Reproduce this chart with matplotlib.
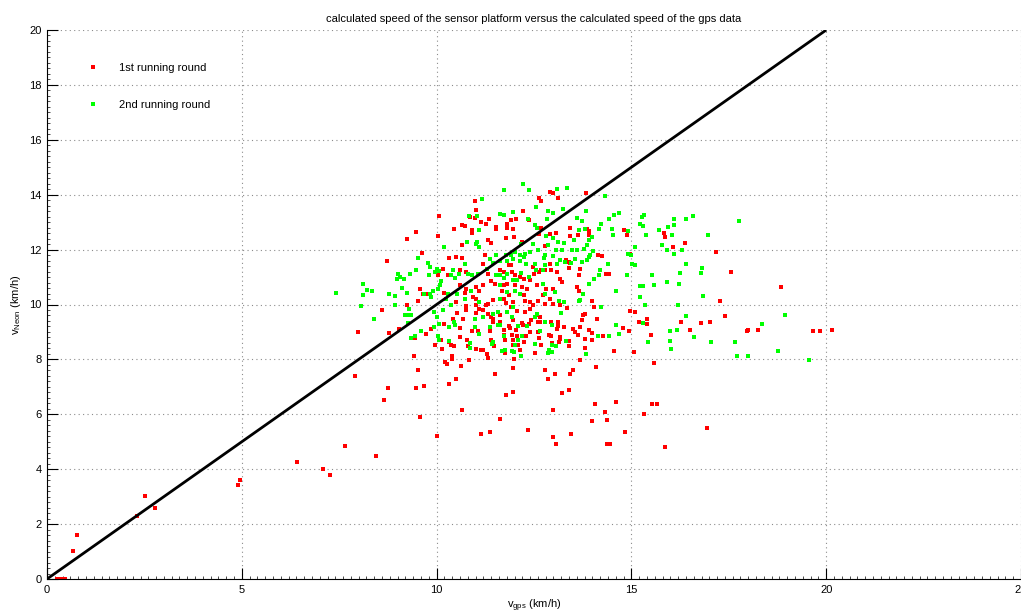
import numpy as np
import matplotlib
matplotlib.use('Agg')
import matplotlib.pyplot as plt
from matplotlib.ticker import MultipleLocator

plt.rcParams['font.family'] = ['Liberation Sans', 'DejaVu Sans']
plt.rcParams['mathtext.fontset'] = 'custom'
plt.rcParams['mathtext.rm'] = 'Liberation Sans'

# (v_gps, v_Neon) pairs in km/h
round1_points = [
    (0.25, 0), (0.35, 0), (0.45, 0), (0.66, 1.02), (0.77, 1.61), (2.31, 2.3), (2.52, 3.01),
    (2.78, 2.57), (4.89, 3.41), (4.95, 3.59), (6.41, 4.25), (7.08, 4.02), (7.26, 3.78), (7.66, 4.86),
    # 7-11.6 km/h, upper part
    (10.98, 13.76), (11.0, 13.43), (10.06, 13.21), (10.86, 13.19), (10.98, 13.15), (11.13, 13.0),
    (11.34, 13.13), (10.66, 12.9), (10.74, 12.85), (10.44, 12.76), (10.9, 12.7), (10.9, 12.6),
    (11.28, 12.94), (11.53, 12.82), (11.53, 12.76), (10.03, 12.5), (9.46, 12.64), (9.25, 12.4),
    (11.32, 12.34), (11.4, 12.24), (10.66, 12.15), (9.63, 11.89), (8.72, 11.57), (10.33, 11.69),
    (10.51, 11.72), (10.66, 11.7), (11.23, 11.8), (11.19, 11.49), (10.0, 11.2), (10.04, 11.06),
    (10.16, 11.3), (10.29, 11.08), (10.59, 11.24), (10.76, 11.2), (11.32, 11.12), (11.4, 10.84),
    (11.49, 10.76), (11.19, 10.7), (11.02, 10.64), (11.1, 10.5), (10.76, 10.58), (10.59, 10.7),
    (9.57, 10.58), (9.66, 10.4), (9.78, 10.4), (10.18, 10.43), (10.72, 10.41), (10.94, 10.27),
    (11.02, 10.19), (11.45, 10.15), (11.32, 10.03), (9.51, 10.11), (9.25, 10.0), (8.6, 9.81),
    (10.76, 9.93), (10.76, 9.79), (11.02, 9.97), (11.28, 9.97), (11.1, 9.85), (10.51, 10.09),
    (11.19, 9.79), (11.32, 9.64), (11.4, 9.54), (11.02, 9.7), (10.68, 9.46), (10.52, 9.69),
    (10.42, 9.48), (11.45, 9.46), (11.62, 10.7),
    # 11.6-16.3 km/h, upper part
    (12.92, 14.1), (12.99, 14.07), (13.11, 13.88), (13.84, 14.05), (12.68, 13.76), (12.62, 13.89),
    (12.22, 13.39), (12.04, 13.13), (11.9, 13.09), (11.81, 12.92), (11.8, 12.79), (12.38, 13.07),
    (11.97, 12.76), (12.68, 12.79), (13.42, 12.79), (13.63, 12.52), (13.85, 12.76), (13.92, 12.52),
    (13.9, 12.67), (14.81, 12.7), (14.89, 12.54), (15.83, 12.62), (15.85, 12.46), (16.06, 12.09),
    (12.92, 12.58), (13.06, 12.62), (12.63, 12.58), (11.77, 12.43), (11.99, 12.46), (12.2, 12.26),
    (13.42, 12.49), (12.78, 12.13), (13.33, 11.63), (13.39, 11.55), (13.39, 11.34), (13.69, 11.3),
    (13.66, 11.06), (14.15, 11.79), (14.25, 11.76), (14.36, 11.1), (14.96, 11.83), (11.87, 11.45),
    (11.9, 11.45), (11.63, 11.27), (11.72, 11.18), (11.93, 11.18), (12.0, 11.06), (12.15, 11.0),
    (12.24, 10.94), (12.4, 10.88), (12.47, 11.36), (12.5, 11.12), (12.62, 11.18), (12.68, 11.24),
    (12.79, 11.27), (12.92, 11.49), (12.94, 11.27), (13.09, 11.18), (13.17, 10.94), (13.21, 10.82),
    (12.58, 10.7), (12.33, 10.58), (12.19, 10.64), (12.01, 10.7), (11.81, 10.76), (11.72, 10.7),
    (11.69, 10.51), (11.87, 10.33), (11.97, 10.09), (12.24, 10.33), (12.27, 10.12), (12.4, 10.09),
    (12.48, 9.97), (12.6, 10.12), (12.73, 10.33), (12.81, 10.58), (12.99, 10.58), (13.03, 10.46),
    (12.91, 10.21), (12.78, 10.03), (12.99, 10.03), (13.18, 9.97), (13.34, 9.87), (13.6, 10.64),
    (13.66, 10.51), (14.0, 10.12), (14.04, 9.91), (13.82, 9.66), (13.75, 9.63), (11.72, 10.21),
    (11.79, 10.06), (11.9, 9.9), (12.07, 9.78), (12.28, 9.72), (12.4, 9.85), (12.58, 9.6),
    (12.65, 9.54), (11.63, 9.6), (14.97, 9.78), (15.09, 9.74), (15.4, 9.46), (14.12, 9.46),
    (14.42, 11.1), (13.42, 11.52),
    # above 16.3 km/h
    (16.37, 12.25), (17.18, 11.9), (17.56, 11.2), (18.84, 10.65), (17.28, 10.13), (17.39, 9.59),
    # 7-11.6 km/h, lower part
    (7.98, 9.0), (8.79, 8.96), (9.03, 9.12), (9.44, 8.78), (9.44, 8.86), (9.73, 8.92),
    (9.86, 9.12), (9.95, 8.51), (10.12, 8.72), (10.18, 9.3), (10.46, 9.26), (10.33, 8.63),
    (10.38, 8.53), (10.44, 8.5), (10.59, 8.81), (10.61, 9.14), (10.15, 8.39), (10.79, 8.69),
    (10.81, 8.47), (10.91, 9.02), (11.06, 9.05), (11.0, 8.39), (11.13, 8.35), (11.19, 8.33),
    (11.29, 8.19), (11.31, 8.06), (11.38, 9.02), (11.4, 8.69), (11.47, 8.47), (11.46, 9.38),
    (9.42, 8.11), (10.4, 8.13), (10.4, 8.02), (10.83, 7.96), (10.22, 7.9), (10.27, 7.83),
    (10.63, 7.77), (9.52, 7.6), (7.91, 7.4), (11.49, 7.48), (10.5, 7.3), (10.33, 7.1),
    (8.74, 6.97), (9.47, 6.97), (9.67, 7.03), (8.66, 6.53), (10.65, 6.14), (9.58, 5.91),
    (10.02, 5.22), (11.15, 5.28), (11.38, 5.36), (8.45, 4.47),
    # 11.6-16.3 km/h, lower part
    (11.64, 9.38), (11.72, 9.08), (11.74, 8.9), (11.87, 9.23), (11.88, 9.14), (11.96, 9.44),
    (11.94, 8.9), (11.96, 8.72), (12.04, 9.08), (12.06, 8.84), (12.1, 8.53), (12.15, 8.35),
    (11.97, 8.53), (11.76, 8.69), (11.76, 8.23), (11.99, 8.02), (12.2, 9.32), (12.23, 9.24),
    (12.29, 8.84), (12.25, 8.62), (12.38, 9.3), (12.42, 9.44), (12.4, 9.0), (12.53, 8.23),
    (12.6, 9.38), (12.66, 9.38), (12.6, 9.0), (12.64, 8.78), (12.67, 8.51), (12.88, 8.9),
    (12.93, 8.84), (12.97, 8.6), (12.93, 9.35), (13.12, 9.38), (13.12, 9.23), (13.1, 9.1),
    (13.17, 8.81), (13.18, 8.74), (13.14, 8.62), (13.27, 9.18), (13.4, 8.66), (13.4, 8.5),
    (13.5, 9.1), (13.56, 8.98), (13.62, 8.9), (13.69, 9.18), (13.73, 9.42), (13.81, 8.41),
    (13.8, 8.74), (13.91, 9.08), (14.0, 8.96), (13.98, 8.69), (13.69, 7.99), (14.09, 7.74),
    (14.27, 8.86), (14.56, 8.29), (14.79, 9.14), (14.95, 9.04), (15.06, 8.27), (15.19, 9.38),
    (15.4, 9.3), (15.5, 8.9), (15.59, 7.87), (11.97, 7.68), (12.77, 7.62), (13.04, 7.48),
    (13.51, 7.62), (13.43, 7.48), (12.85, 7.3), (11.96, 6.83), (11.77, 6.69), (13.21, 6.77),
    (13.41, 6.87), (12.99, 6.14), (14.06, 6.38), (14.32, 6.1), (14.6, 6.46), (15.54, 6.37),
    (15.66, 6.37), (15.33, 6.0), (11.64, 5.83), (12.35, 5.41), (12.99, 5.19), (13.07, 4.92),
    (13.46, 5.29), (13.99, 5.74), (14.37, 5.78), (14.83, 5.34), (14.37, 4.93), (14.45, 4.92),
    (15.86, 4.82),
    # above 16.3 km/h, lower part
    (16.27, 9.36), (16.51, 9.06), (16.79, 9.32), (17.02, 9.36), (17.96, 9.04), (17.99, 9.08),
    (18.25, 9.06), (19.67, 9.04), (19.85, 9.02), (20.15, 9.06), (16.95, 5.51),
]

round2_points = [
    # 7-11.6 km/h, upper part
    (11.16, 13.83), (10.83, 13.21), (11.03, 13.22), (11.1, 12.72), (11.03, 12.28), (11.0, 12.2),
    (11.1, 12.1), (10.78, 12.28), (10.18, 12.08), (9.53, 11.7), (9.78, 11.5), (9.82, 11.36),
    (9.96, 11.18), (10.06, 11.22), (10.0, 11.3), (9.8, 11.06), (9.0, 11.1), (9.05, 11.0),
    (9.33, 11.1), (9.47, 11.26), (8.99, 10.93), (9.16, 10.94), (8.11, 10.73), (8.22, 10.54),
    (8.35, 10.48), (8.1, 10.36), (7.42, 10.42), (8.79, 10.4), (8.94, 10.32), (9.11, 10.6),
    (9.25, 10.43), (9.67, 10.37), (9.82, 10.37), (9.91, 10.5), (10.1, 10.7), (10.12, 10.84),
    (10.36, 11.06), (10.42, 11.24), (10.47, 10.96), (10.57, 11.1), (10.8, 11.1), (10.9, 11.06),
    (11.05, 11.1), (10.74, 11.49), (11.3, 11.3), (11.45, 11.52), (11.53, 11.8), (11.37, 11.64),
    (11.52, 11.06), (9.86, 10.27), (10.04, 10.58), (10.25, 10.21), (10.28, 10.39), (10.37, 10.0),
    (10.52, 10.37), (10.74, 10.19), (10.89, 10.51), (8.07, 9.93), (8.92, 9.99), (9.28, 9.85),
    (9.25, 9.63), (9.2, 9.63), (9.35, 9.6), (8.4, 9.46), (9.93, 9.73), (10.0, 9.55),
    (10.16, 9.79), (10.98, 9.48), (11.19, 9.55), (11.57, 9.73), (11.45, 9.66), (11.1, 10.09),
    # 11.6-16.3 km/h, upper part
    (12.23, 14.38), (11.72, 14.16), (12.36, 14.16), (13.1, 14.22), (13.35, 14.26), (14.32, 13.95),
    (12.56, 13.55), (13.24, 13.49), (12.85, 13.39), (12.99, 13.34), (11.97, 13.37), (11.63, 13.31),
    (11.73, 13.25), (12.35, 13.13), (12.84, 13.13), (13.84, 13.39), (14.67, 13.33), (14.43, 13.13),
    (14.56, 13.25), (13.6, 13.16), (13.73, 13.06), (14.23, 12.94), (14.16, 12.76), (15.27, 13.19),
    (15.33, 13.25), (15.23, 12.94), (15.3, 12.85), (16.1, 13.13), (15.95, 12.82), (16.1, 12.88),
    (15.72, 12.7), (16.05, 12.52), (15.38, 12.54), (14.92, 12.67), (14.5, 12.76), (14.54, 12.52),
    (12.53, 12.88), (12.57, 12.79), (12.81, 12.49), (12.98, 12.43), (12.48, 12.21), (12.17, 12.21),
    (12.87, 12.15), (13.11, 12.28), (13.28, 12.25), (13.52, 12.34), (13.66, 12.7), (13.82, 12.76),
    (13.91, 12.34), (13.87, 12.18), (13.98, 12.46), (13.78, 12.03), (13.6, 12.0), (13.47, 12.0),
    (13.21, 12.0), (13.07, 11.97), (13.0, 11.76), (12.79, 11.79), (12.75, 11.69), (12.6, 11.97),
    (12.39, 11.91), (12.28, 11.85), (12.15, 11.79), (12.02, 11.91), (11.9, 11.82), (11.77, 11.79),
    (11.63, 11.57), (11.8, 11.6), (11.97, 11.67), (12.13, 11.57), (12.24, 11.73), (12.3, 11.48),
    (12.52, 11.48), (12.56, 11.27), (12.73, 11.27), (12.79, 11.43), (13.1, 11.49), (13.18, 11.61),
    (13.3, 11.55), (13.44, 11.52), (13.56, 11.67), (13.73, 11.55), (13.9, 11.73), (13.87, 11.61),
    (14.02, 11.94), (13.95, 11.82), (14.4, 11.49), (14.2, 11.24), (14.16, 11.06), (14.04, 10.94),
    (14.89, 11.06), (15.02, 11.49), (15.1, 11.43), (14.98, 11.79), (14.92, 11.83), (15.1, 12.09),
    (15.79, 12.15), (15.92, 12.0), (16.1, 11.85), (15.53, 11.06), (15.3, 10.67), (15.21, 10.67),
    (15.59, 10.72), (15.92, 10.82), (16.21, 10.76), (15.23, 10.27), (14.6, 10.51), (13.91, 10.76),
    (13.75, 10.39), (13.69, 10.15), (13.65, 10.12), (13.27, 10.09), (13.14, 10.12), (13.03, 10.46),
    (12.73, 10.76), (12.77, 10.39), (12.37, 11.0), (12.16, 11.15), (12.07, 10.88), (11.95, 10.9),
    (11.8, 11.12), (11.73, 10.96), (11.63, 11.06), (11.63, 10.7), (12.01, 10.51), (11.81, 10.45),
    (12.13, 10.39), (11.63, 10.21), (11.97, 9.9), (11.81, 9.73), (11.93, 9.54), (12.57, 9.66),
    (12.53, 9.54), (13.2, 9.7), (14.23, 9.9), (15.35, 9.97), (16.19, 9.97),
    # above 16.3 km/h, upper part
    (16.39, 13.13), (16.59, 13.22), (17.75, 13.03), (16.97, 12.52), (16.29, 11.98), (16.4, 11.46),
    (16.81, 11.34), (16.78, 11.16), (16.25, 11.16), (16.85, 10.31), (16.4, 9.59), (18.95, 9.63),
    # 7-11.6 km/h, lower part
    (9.26, 9.32), (9.44, 8.86), (9.35, 8.78), (9.59, 9.04), (9.93, 9.18), (10.06, 9.3),
    (10.03, 8.86), (10.05, 8.69), (10.33, 9.18), (10.33, 8.68), (10.44, 9.38), (10.46, 9.24),
    (10.98, 9.17), (11.1, 8.94), (10.86, 8.6), (10.85, 8.41), (11.37, 9.18), (11.42, 8.57),
    (11.46, 8.62), (11.57, 9.26),
    # 11.6-16.3 km/h, lower part
    (11.64, 9.26), (12.08, 9.2), (12.32, 9.23), (11.72, 8.86), (12.02, 8.51), (12.1, 8.72),
    (12.2, 8.84), (11.68, 8.32), (11.76, 8.35), (11.94, 8.32), (11.99, 8.26), (12.16, 8.11),
    (12.53, 8.57), (12.66, 9.02), (12.79, 9.38), (12.97, 9.26), (12.97, 8.51), (13.06, 8.47),
    (12.88, 8.35), (12.87, 8.23), (12.97, 8.27), (13.32, 8.66), (13.83, 8.19), (14.13, 8.84),
    (14.42, 8.86), (14.6, 9.24), (14.68, 8.92), (15.3, 9.32), (15.43, 8.63), (15.98, 9.02),
    (15.99, 8.66), (16.02, 8.38), (16.17, 9.06),
    # above 16.3 km/h, lower part
    (18.35, 9.29), (16.61, 8.8), (17.04, 8.62), (17.65, 8.64), (17.7, 8.11), (18.0, 8.13),
    (18.76, 8.29), (19.55, 7.98),
]

# reference line v_Neon = v_gps
line_x = [0, 20]
line_y = [0, 20]

r1 = np.array(round1_points)
r2 = np.array(round2_points)

fig = plt.figure(figsize=(10.21, 6.13), dpi=100)
ax = fig.add_axes([47 / 1021, 34 / 613, 974 / 1021, 549 / 613])

ax.plot(r1[:, 0], r1[:, 1], ls='none', marker='s', ms=2.2, mew=0, color=(1, 0, 0),
        label='1st running round')
ax.plot(r2[:, 0], r2[:, 1], ls='none', marker='s', ms=2.2, mew=0, color=(0, 1, 0),
        label='2nd running round')
ax.plot(line_x, line_y, color='black', lw=2, solid_capstyle='butt')

ax.set_xlim(0, 25)
ax.set_ylim(0, 20)
ax.xaxis.set_major_locator(MultipleLocator(5))
ax.yaxis.set_major_locator(MultipleLocator(2))
ax.xaxis.set_minor_locator(MultipleLocator(0.2))
ax.yaxis.set_minor_locator(MultipleLocator(0.2))
ax.tick_params(which='major', direction='in', length=8, width=0.8, labelsize=8, pad=4)
ax.tick_params(which='minor', direction='in', length=2.5, width=0.5)

ax.grid(True, which='major', ls=(0, (1, 3)), color='0.55', lw=0.8)
ax.set_axisbelow(True)
for side in ('top', 'right'):
    ax.spines[side].set_visible(False)
ax.spines['left'].set_linewidth(0.8)
ax.spines['bottom'].set_linewidth(0.8)

ax.set_title('calculated speed of the sensor platform versus the calculated speed of the gps data',
             fontsize=8, pad=6)
ax.set_xlabel(r'$\mathrm{v_{gps}}$ (km/h)', fontsize=8, labelpad=2)
ax.set_ylabel(r'$\mathrm{v_{Neon}}$ (km/h)', fontsize=8, labelpad=4)

ax.legend(loc='upper left', bbox_to_anchor=(0.0245, 0.959), frameon=False, fontsize=8,
          handlelength=2.2, handletextpad=1.2, labelspacing=2.47, markerscale=1.0)

fig.savefig('out.png', dpi=100)
